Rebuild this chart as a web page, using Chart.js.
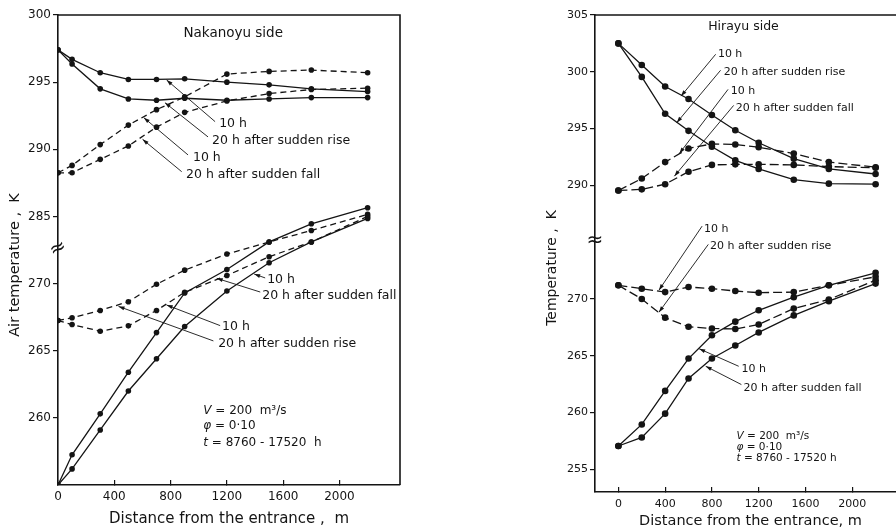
<!DOCTYPE html>
<html>
<head>
<meta charset="utf-8">
<script src="https://cdn.jsdelivr.net/npm/chart.js@4.4.1/dist/chart.umd.min.js"></script>
<style>
  html, body { margin: 0; padding: 0; background: #fff; }
  body { position: relative; width: 896px; height: 530px; overflow: hidden; }
  canvas { position: absolute; top: 0; }
  #naka { left: 0; }
  #hira { left: 520px; }
</style>
</head>
<body>
<canvas id="naka" width="420" height="530"></canvas>
<canvas id="hira" width="390" height="530"></canvas>
<script>
const INK = '#141414';
const FONT = '"DejaVu Sans", sans-serif';

// distance from the entrance (m)
const nakaDist = [0, 100, 300, 500, 700, 900, 1200, 1500, 1800, 2200];
const hiraDist = [0, 200, 400, 600, 800, 1000, 1200, 1500, 1800, 2200];

// Nakanoyu side, warm group (K)
const nakaRise10hWarm = [297.4, 296.7, 295.7, 295.2, 295.2, 295.25, 295.0, 294.8, 294.5, 294.3];
const nakaRise20hWarm = [297.4, 296.35, 294.5, 293.75, 293.65, 293.8, 293.65, 293.75, 293.85, 293.85];
const nakaFall10hWarm = [288.25, 288.8, 290.35, 291.8, 292.95, 293.9, 295.6, 295.8, 295.9, 295.7];
const nakaFall20hWarm = [288.25, 288.25, 289.25, 290.25, 291.65, 292.75, 293.6, 294.15, 294.45, 294.55];
// Nakanoyu side, cold group (K)
const nakaFall10hCold = [255.0, 256.2, 259.1, 262.0, 264.4, 266.8, 269.45, 271.55, 273.1, 274.85];
const nakaFall20hCold = [255.0, 257.25, 260.3, 263.4, 266.35, 269.3, 271.05, 273.1, 274.45, 275.65];
const nakaRise10hCold = [267.25, 266.95, 266.45, 266.85, 268.0, 269.35, 270.6, 272.0, 273.1, 275.0];
const nakaRise20hCold = [267.25, 267.45, 268.0, 268.65, 269.95, 271.0, 272.2, 273.1, 273.95, 275.15];

// Hirayu side, warm group (K)
const hiraRise10hWarm = [302.5, 300.6, 298.7, 297.6, 296.2, 294.85, 293.75, 292.35, 291.45, 291.0];
const hiraRise20hWarm = [302.5, 299.55, 296.3, 294.8, 293.4, 292.2, 291.45, 290.5, 290.15, 290.1];
const hiraFall10hWarm = [289.55, 290.6, 292.05, 293.25, 293.65, 293.6, 293.35, 292.8, 292.05, 291.6];
const hiraFall20hWarm = [289.55, 289.65, 290.1, 291.2, 291.8, 291.85, 291.85, 291.8, 291.65, 291.55];
// Hirayu side, cold group (K)
const hiraRise10hCold = [271.2, 270.9, 270.6, 271.05, 270.9, 270.7, 270.55, 270.6, 271.2, 271.95];
const hiraRise20hCold = [271.2, 270.0, 268.35, 267.55, 267.4, 267.35, 267.75, 269.15, 269.95, 271.65];
const hiraFall10hCold = [257.05, 258.95, 261.9, 264.75, 266.8, 268.0, 269.0, 270.15, 271.2, 272.3];
const hiraFall20hCold = [257.05, 257.8, 259.9, 263.0, 264.75, 265.9, 267.05, 268.55, 269.8, 271.35];

// tick labels
const nakaXTicks = [0, 400, 800, 1200, 1600, 2000];
const hiraXTicks = [0, 400, 800, 1200, 1600, 2000];
const nakaYTicks = [260, 265, 270, 285, 290, 295, 300];
const hiraYTicks = [255, 260, 265, 270, 290, 295, 300, 305];

// broken axis: everything under COLD_TOP is drawn BREAK_SHIFT higher
const COLD_TOP = 280;
const BREAK_SHIFT = 10;
const drawnY = v => v < COLD_TOP ? v + BREAK_SHIFT : v;

function series(dist, values, dashed, dash, dot) {
  return {
    data: dist.map((d, i) => ({ x: d, y: drawnY(values[i]) })),
    borderColor: INK,
    backgroundColor: INK,
    borderWidth: 1.3,
    borderDash: dashed ? dash : [],
    pointRadius: dot,
    pointBorderWidth: 0,
    pointBackgroundColor: INK,
    tension: 0,
    fill: false
  };
}

function drawParts(ctx, text, x, y, size, align) {
  const parts = typeof text === 'string' ? [[text, '']] : text;
  const fonts = parts.map(p => (p[1] === 'i' ? 'italic ' : '') + size + 'px ' + FONT);
  let w = 0;
  parts.forEach((p, i) => { ctx.font = fonts[i]; w += ctx.measureText(p[0]).width; });
  let cx = align === 'center' ? x - w / 2 : x;
  ctx.textAlign = 'left';
  ctx.textBaseline = 'middle';
  parts.forEach((p, i) => {
    ctx.font = fonts[i];
    ctx.fillText(p[0], cx, y);
    cx += ctx.measureText(p[0]).width;
  });
}

// frame, axis break, leader arrows and in-plot texts
const notesPlugin = {
  id: 'notes',
  afterDraw(chart, args, opts) {
    const { ctx, chartArea: a } = chart;
    const X = d => chart.scales.x.getPixelForValue(d);
    const Y = v => chart.scales.y.getPixelForValue(v);
    ctx.save();
    ctx.strokeStyle = INK;
    ctx.fillStyle = INK;

    ctx.lineWidth = 1.6;
    ctx.beginPath();
    ctx.moveTo(a.left, a.top);
    ctx.lineTo(a.right, a.top);
    ctx.lineTo(a.right, a.bottom);
    ctx.stroke();

    // break mark on the y axis
    ctx.save();
    ctx.translate(a.left, Y(opts.breakAt));
    ctx.rotate(opts.breakTilt);
    ctx.font = '20px ' + FONT;
    ctx.textAlign = 'center';
    ctx.textBaseline = 'middle';
    ctx.fillText('≈', 0, 0);
    ctx.restore();

    ctx.lineWidth = 0.9;
    opts.leaders.forEach(([from, to]) => {
      const x1 = X(from[0]), y1 = Y(from[1]), x2 = X(to[0]), y2 = Y(to[1]);
      ctx.beginPath();
      ctx.moveTo(x1, y1);
      ctx.lineTo(x2, y2);
      ctx.stroke();
      const ang = Math.atan2(y2 - y1, x2 - x1);
      ctx.beginPath();
      ctx.moveTo(x2, y2);
      ctx.lineTo(x2 - 6 * Math.cos(ang) + 2 * Math.sin(ang), y2 - 6 * Math.sin(ang) - 2 * Math.cos(ang));
      ctx.lineTo(x2 - 6 * Math.cos(ang) - 2 * Math.sin(ang), y2 - 6 * Math.sin(ang) + 2 * Math.cos(ang));
      ctx.closePath();
      ctx.fill();
    });

    opts.labels.forEach(l => drawParts(ctx, l.text, X(l.at[0]), Y(l.at[1]), l.size || opts.size, l.align));

    // rotated y axis title
    ctx.save();
    ctx.translate(opts.yTitle.x, opts.yTitle.y);
    ctx.rotate(-Math.PI / 2);
    drawParts(ctx, opts.yTitle.text, 0, 0, opts.yTitle.size, 'center');
    ctx.restore();

    ctx.restore();
  }
};

Chart.defaults.font.family = FONT;
Chart.defaults.color = INK;

function panel(id, p) {
  return new Chart(document.getElementById(id), {
    type: 'line',
    data: { datasets: p.datasets },
    options: {
      responsive: false,
      animation: false,
      events: [],
      layout: { padding: { top: p.padTop, right: p.padRight, left: 0, bottom: 0 } },
      scales: {
        x: {
          type: 'linear',
          min: p.xMin,
          max: p.xMax,
          afterBuildTicks: s => { s.ticks = p.xTicks.map(v => ({ value: v })); },
          afterFit: s => { s.height = p.xAxisHeight; },
          grid: { drawOnChartArea: false, tickLength: -5, color: INK, lineWidth: 1.2 },
          border: { color: INK, width: 1.6 },
          ticks: { autoSkip: false, maxRotation: 0, padding: p.xTickPad, font: { size: p.tickSize }, callback: v => String(v) },
          title: { display: true, text: p.xTitle, font: { size: p.xTitleSize }, padding: { top: 0, bottom: p.xTitlePad } }
        },
        y: {
          type: 'linear',
          min: p.yMin,
          max: p.yMax,
          afterBuildTicks: s => { s.ticks = p.yTicks.map(v => ({ value: drawnY(v) })); },
          afterFit: s => { s.width = p.yAxisWidth; },
          grid: { drawOnChartArea: false, tickLength: 5, color: INK, lineWidth: 1.2 },
          border: { color: INK, width: 1.6 },
          ticks: { padding: 2, font: { size: p.tickSize }, callback: (v, i) => String(p.yTicks[i]) }
        }
      },
      plugins: { legend: { display: false }, tooltip: { enabled: false }, notes: p.notes }
    },
    plugins: [notesPlugin]
  });
}

const nakaDash = [6, 4];
panel('naka', {
  datasets: [
    series(nakaDist, nakaRise10hWarm, false, nakaDash, 2.8),
    series(nakaDist, nakaRise20hWarm, false, nakaDash, 2.8),
    series(nakaDist, nakaFall10hWarm, true, nakaDash, 2.8),
    series(nakaDist, nakaFall20hWarm, true, nakaDash, 2.8),
    series(nakaDist, nakaFall10hCold, false, nakaDash, 2.8),
    series(nakaDist, nakaFall20hCold, false, nakaDash, 2.8),
    series(nakaDist, nakaRise10hCold, true, nakaDash, 2.8),
    series(nakaDist, nakaRise20hCold, true, nakaDash, 2.8)
  ],
  xMin: 0, xMax: 2430, yMin: 265, yMax: 300,
  xTicks: nakaXTicks, yTicks: nakaYTicks,
  padTop: 15, padRight: 20, yAxisWidth: 58, xAxisHeight: 45,
  tickSize: 12, xTickPad: 10,
  xTitle: 'Distance from the entrance ,  m', xTitleSize: 15, xTitlePad: 2,
  notes: {
    size: 12.5,
    breakAt: 282.6, breakTilt: -0.45,
    yTitle: { text: 'Air temperature ,  K', x: 15, y: 265, size: 14.5 },
    leaders: [
      [[1116, 292.06], [772, 295.16]],
      [[1066, 290.92], [760, 293.47]],
      [[924, 289.58], [610, 292.35]],
      [[879, 288.33], [601, 290.74]],
      [[1472, 280.42], [1394, 280.71]],
      [[1437, 279.37], [1128, 280.39]],
      [[1152, 276.87], [772, 278.4]],
      [[1104, 275.73], [430, 278.3]]
    ],
    labels: [
      { text: 'Nakanoyu side', at: [1245, 298.6], size: 13.5, align: 'center' },
      { text: '10 h', at: [1145, 291.9] },
      { text: '20 h after sudden rise', at: [1095, 290.64] },
      { text: '10 h', at: [959, 289.35] },
      { text: '20 h after sudden fall', at: [910, 288.09] },
      { text: '10 h', at: [1486, 280.27] },
      { text: '20 h after sudden fall', at: [1451, 279.08] },
      { text: '10 h', at: [1166, 276.77] },
      { text: '20 h after sudden rise', at: [1138, 275.5] },
      { text: [['V', 'i'], [' = 200  m³/s', '']], at: [1032, 270.54], size: 12 },
      { text: [['φ', 'i'], [' = 0·10', '']], at: [1032, 269.42], size: 12 },
      { text: [['t', 'i'], [' = 8760 - 17520  h', '']], at: [1032, 268.15], size: 12 }
    ]
  }
});

const hiraDash = [9, 4];
panel('hira', {
  datasets: [
    series(hiraDist, hiraRise10hWarm, false, hiraDash, 3.3),
    series(hiraDist, hiraRise20hWarm, false, hiraDash, 3.3),
    series(hiraDist, hiraFall10hWarm, true, hiraDash, 3.3),
    series(hiraDist, hiraFall20hWarm, true, hiraDash, 3.3),
    series(hiraDist, hiraRise10hCold, true, hiraDash, 3.3),
    series(hiraDist, hiraRise20hCold, true, hiraDash, 3.3),
    series(hiraDist, hiraFall10hCold, false, hiraDash, 3.3),
    series(hiraDist, hiraFall20hCold, false, hiraDash, 3.3)
  ],
  xMin: -200, xMax: 2460, yMin: 263, yMax: 305,
  xTicks: hiraXTicks, yTicks: hiraYTicks,
  padTop: 15, padRight: 0, yAxisWidth: 75, xAxisHeight: 38,
  tickSize: 11, xTickPad: 11,
  xTitle: 'Distance from the entrance, m', xTitleSize: 14.5, xTitlePad: 0,
  notes: {
    size: 11,
    breakAt: 285.15, breakTilt: 0,
    yTitle: { text: 'Temperature ,  K', x: 32, y: 268, size: 14 },
    leaders: [
      [[832, 301.54], [536, 297.86]],
      [[874, 300.13], [499, 295.52]],
      [[938, 298.45], [522, 292.81]],
      [[986, 297.04], [479, 290.81]],
      [[716, 286.41], [347, 280.77]],
      [[769, 284.8], [347, 278.83]],
      [[1029, 274.07], [691, 275.61]],
      [[1052, 272.46], [747, 274.07]]
    ],
    labels: [
      { text: 'Hirayu side', at: [1070, 304.0], size: 12.5, align: 'center' },
      { text: '10 h', at: [851, 301.54] },
      { text: '20 h after sudden rise', at: [901, 299.95] },
      { text: '10 h', at: [961, 298.3] },
      { text: '20 h after sudden fall', at: [1003, 296.78] },
      { text: '10 h', at: [733, 286.12] },
      { text: '20 h after sudden rise', at: [783, 284.65] },
      { text: '10 h', at: [1053, 273.78] },
      { text: '20 h after sudden fall', at: [1070, 272.17] },
      { text: [['V', 'i'], [' = 200  m³/s', '']], at: [1010, 267.9], size: 10.5 },
      { text: [['φ', 'i'], [' = 0·10', '']], at: [1010, 266.95], size: 10.5 },
      { text: [['t', 'i'], [' = 8760 - 17520 h', '']], at: [1010, 266.0], size: 10.5 }
    ]
  }
});
</script>
</body>
</html>
